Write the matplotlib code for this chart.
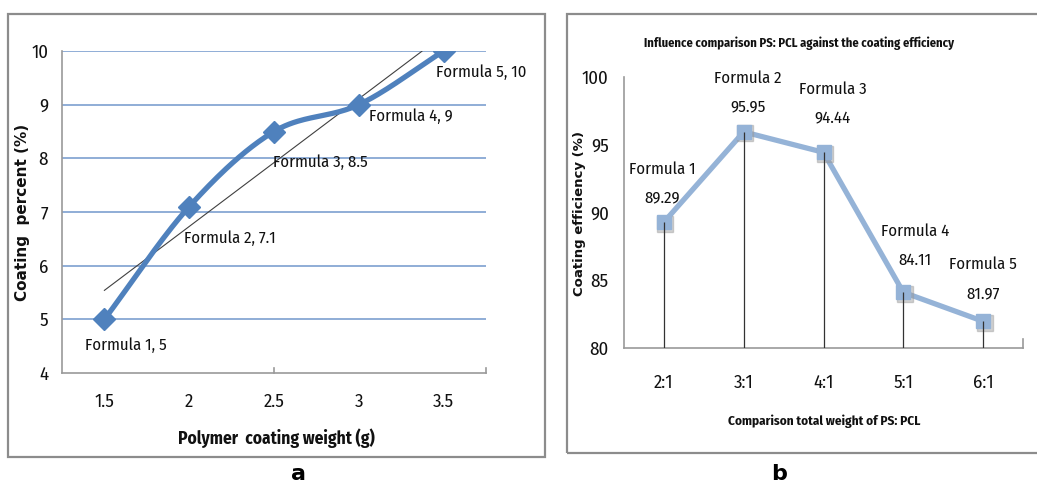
import numpy as np
import matplotlib
matplotlib.use("Agg")
import matplotlib.pyplot as plt
from matplotlib.patches import Rectangle

# ---- data: panel a ----
weights = [1.5, 2.0, 2.5, 3.0, 3.5]
coating_percent = [5.0, 7.1, 8.5, 9.0, 10.0]
formula_names = ["Formula 1", "Formula 2", "Formula 3", "Formula 4", "Formula 5"]

# ---- data: panel b ----
ratios = ["2:1", "3:1", "4:1", "5:1", "6:1"]
efficiency = [89.29, 95.95, 94.44, 84.11, 81.97]

NARROW = ["Fira Sans Condensed", "DejaVu Sans"]
WIDE_BOLD = ["DejaVu Sans"]
plt.rcParams["font.family"] = NARROW

W, H = 1037, 482
PT = 0.72  # points per pixel at 100 dpi
fig = plt.figure(figsize=(W / 100, H / 100), dpi=100)


def fig_rect(x0, y0, x1, y1):
    """Pixel box (top-left origin) -> figure-fraction [l, b, w, h]."""
    return [x0 / W, 1 - y1 / H, (x1 - x0) / W, (y1 - y0) / H]


def fx(px):
    return px / W


def fy(py):
    return 1 - py / H


def catmull_rom(xs, ys, n=40):
    xs, ys = np.asarray(xs, float), np.asarray(ys, float)
    px = np.concatenate([[2 * xs[0] - xs[1]], xs, [2 * xs[-1] - xs[-2]]])
    py = np.concatenate([[2 * ys[0] - ys[1]], ys, [2 * ys[-1] - ys[-2]]])
    outx, outy = [], []
    t = np.linspace(0, 1, n)
    for i in range(1, len(px) - 2):
        for arr, out in ((px, outx), (py, outy)):
            p0, p1, p2, p3 = arr[i - 1], arr[i], arr[i + 1], arr[i + 2]
            out.extend(0.5 * ((2 * p1) + (-p0 + p2) * t
                              + (2 * p0 - 5 * p1 + 4 * p2 - p3) * t ** 2
                              + (-p0 + 3 * p1 - 3 * p2 + p3) * t ** 3))
    return np.array(outx), np.array(outy)


# panel frames
fig.patches.append(Rectangle((fx(8), fy(457)), 537 / W, 443 / H,
                             transform=fig.transFigure, fill=False,
                             edgecolor="#8c8c8c", lw=1.6))
fig.patches.append(Rectangle((fx(567), fy(453)), 480 / W, 439 / H,
                             transform=fig.transFigure, fill=False,
                             edgecolor="#8c8c8c", lw=1.6, clip_on=False))

TXT = "#111111"
AXC = "#9a9a9a"

# ================= panel a =================
axa = fig.add_axes(fig_rect(62, 51, 486, 373))
axa.set_xlim(1.25, 3.75)
axa.set_ylim(4, 10)
for v in range(5, 11):
    axa.axhline(v, color="#7d9fd0", lw=1.2, zorder=1)

# linear trend line, clipped at the top of the plot area
slope, intercept = np.polyfit(weights, coating_percent, 1)
tx = np.linspace(weights[0], 3.75, 400)
ty = slope * tx + intercept
keep = ty <= 10
axa.plot(tx[keep], ty[keep], color="#404040", lw=0.8, zorder=2)

sx, sy = catmull_rom(weights, coating_percent)
axa.plot(sx, sy, color="#4f81bd", lw=3.8, solid_capstyle="round", zorder=3)
axa.plot(weights, coating_percent, ls="none", marker="D", ms=11.5,
         color="#4f81bd", zorder=4)

# label offsets in pixels (left edge, vertical centre)
label_offsets_a = [(-19, -26), (-5, -32), (-1, -31), (10, -12), (-8, -21)]
for x, y, name, (dx, dy) in zip(weights, coating_percent, formula_names, label_offsets_a):
    axa.annotate(f"{name}, {y:g}", (x, y), xytext=(dx * PT, dy * PT),
                 textcoords="offset points", ha="left", va="center",
                 fontsize=12, color=TXT, annotation_clip=False, zorder=5)

axa.set_xticks(weights)
axa.set_xticklabels([f"{w:g}" for w in weights])
axa.set_yticks(range(4, 11))
axa.tick_params(axis="both", length=0, labelsize=13.5, colors=TXT)
axa.tick_params(axis="x", pad=14)
axa.tick_params(axis="y", pad=10)
for side in ("top", "right"):
    axa.spines[side].set_visible(False)
for side in ("left", "bottom"):
    axa.spines[side].set_color(AXC)
    axa.spines[side].set_linewidth(1.2)
for xt in (2.5, 3.75):
    axa.plot([xt, xt], [4, 4.1], color=AXC, lw=1.2, clip_on=False)

fig.text(fx(276), fy(438), "Polymer  coating weight (g)", ha="center", va="center",
         fontsize=12.5, fontweight="bold", color=TXT)
fig.text(fx(23), fy(212), "Coating  percent (%)", ha="center", va="center",
         rotation=90, fontsize=11, fontweight="bold", family=WIDE_BOLD, color=TXT)
fig.text(fx(298), fy(474), "a", ha="center", va="center", fontsize=16,
         fontweight="bold", family=WIDE_BOLD)

# ================= panel b =================
axb = fig.add_axes(fig_rect(624, 77, 1023, 348))
xb = np.arange(len(ratios))
axb.set_xlim(-0.5, len(ratios) - 0.5)
axb.set_ylim(80, 100)
axb.plot(xb, efficiency, color="#95b3d7", lw=3.8, zorder=3)
# soft drop shadow behind the square markers
axb.plot(xb, efficiency, ls="none", marker="s", ms=11, color="#9a9a9a", alpha=0.45,
         transform=axb.transData + matplotlib.transforms.ScaledTranslation(
             1.5 / 100, -1.5 / 100, fig.dpi_scale_trans), zorder=3)
axb.plot(xb, efficiency, ls="none", marker="s", ms=10.5, color="#95b3d7", zorder=4)
# drop lines run from each point down to the category axis, over the markers
axb.vlines(xb, 80, efficiency, color="#333333", lw=0.9, zorder=5)

# (horizontal shift, gap from point to value line) in pixels
label_offsets_b = [(-2, 24), (4, 25), (9, 34), (12, 32), (0, 28)]
for x, y, name, (dx, gap) in zip(xb, efficiency, formula_names, label_offsets_b):
    axb.annotate(f"{y:.2f}", (x, y), xytext=(dx * PT, gap * PT),
                 textcoords="offset points", ha="center", va="center",
                 fontsize=12, color=TXT, annotation_clip=False, zorder=6)
    axb.annotate(name, (x, y), xytext=(dx * PT, (gap + 29) * PT),
                 textcoords="offset points", ha="center", va="center",
                 fontsize=12, color=TXT, annotation_clip=False, zorder=6)

axb.set_xticks(xb)
axb.set_xticklabels(ratios)
axb.set_yticks(range(80, 101, 5))
axb.tick_params(axis="both", length=0, labelsize=13.5, colors=TXT)
axb.tick_params(axis="x", pad=19)
axb.tick_params(axis="y", pad=11)
for side in ("top", "right"):
    axb.spines[side].set_visible(False)
for side in ("left", "bottom"):
    axb.spines[side].set_color(AXC)
    axb.spines[side].set_linewidth(1.2)
axb.plot([4.5, 4.5], [80, 80.7], color=AXC, lw=1.2, clip_on=False)

fig.text(fx(824), fy(421), "Comparison total weight of PS: PCL", ha="center",
         va="center", fontsize=9.5, fontweight="bold", color=TXT)
fig.text(fx(580), fy(213), "Coating efficiency (%)", ha="center", va="center",
         rotation=90, fontsize=9.5, fontweight="bold", family=WIDE_BOLD, color=TXT)
fig.text(fx(799), fy(43), "Influence comparison PS: PCL against the coating efficiency",
         ha="center", va="center", fontsize=9, fontweight="bold", color=TXT)
fig.text(fx(779), fy(474), "b", ha="center", va="center", fontsize=16,
         fontweight="bold", family=WIDE_BOLD)

fig.savefig("out.png", dpi=100)
